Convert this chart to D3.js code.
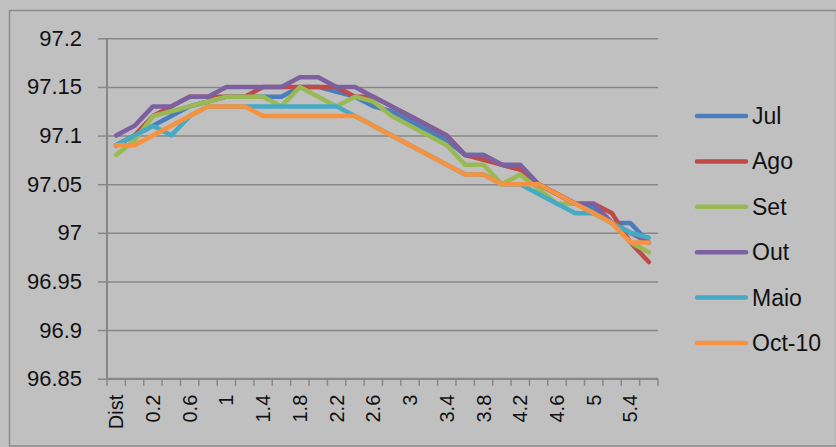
<!DOCTYPE html>
<html>
<head>
<meta charset="utf-8">
<script src="https://cdn.jsdelivr.net/npm/d3@7"></script>
<style>
  body { margin: 0; background: #c0c0c0; }
  svg { display: block; }
  text { font-family: "Liberation Sans", Arial, sans-serif; fill: #111; }
</style>
</head>
<body>
<div id="chart"></div>
<script>
// categories along the x axis (distance), labels shown on every other one
var categories = ["Dist", "0", "0.2", "0.4", "0.6", "0.8", "1", "1.2", "1.4", "1.6",
  "1.8", "2", "2.2", "2.4", "2.6", "2.8", "3", "3.2", "3.4", "3.6",
  "3.8", "4", "4.2", "4.4", "4.6", "4.8", "5", "5.2", "5.4", "5.6"];

var seriesNames = ["Jul", "Ago", "Set", "Out", "Maio", "Oct-10"];

var jul = [97.09, 97.10, 97.11, 97.12, 97.13, 97.135, 97.14, 97.14, 97.14, 97.14,
  97.15, 97.15, 97.145, 97.14, 97.13, 97.125, 97.115, 97.105, 97.095, 97.08,
  97.08, 97.07, 97.065, 97.05, 97.04, 97.03, 97.025, 97.01, 97.01, 96.99];
var ago = [97.09, 97.10, 97.12, 97.13, 97.14, 97.14, 97.14, 97.14, 97.15, 97.15,
  97.15, 97.15, 97.15, 97.14, 97.14, 97.13, 97.12, 97.11, 97.10, 97.08,
  97.075, 97.07, 97.065, 97.05, 97.04, 97.03, 97.03, 97.02, 96.99, 96.97];
var set = [97.08, 97.095, 97.12, 97.125, 97.13, 97.135, 97.14, 97.14, 97.14, 97.13,
  97.15, 97.14, 97.13, 97.14, 97.135, 97.12, 97.11, 97.10, 97.09, 97.07,
  97.07, 97.05, 97.06, 97.045, 97.03, 97.03, 97.02, 97.01, 96.99, 96.98];
var out = [97.10, 97.11, 97.13, 97.13, 97.14, 97.14, 97.15, 97.15, 97.15, 97.15,
  97.16, 97.16, 97.15, 97.15, 97.14, 97.13, 97.12, 97.11, 97.10, 97.08,
  97.08, 97.07, 97.07, 97.05, 97.04, 97.03, 97.03, 97.01, 97.00, 96.99];
var maio = [97.09, 97.10, 97.11, 97.10, 97.12, 97.13, 97.13, 97.13, 97.13, 97.13,
  97.13, 97.13, 97.13, 97.12, 97.11, 97.10, 97.09, 97.08, 97.07, 97.06,
  97.06, 97.05, 97.05, 97.04, 97.03, 97.02, 97.02, 97.01, 97.00, 96.995];
var oct10 = [97.09, 97.09, 97.10, 97.11, 97.12, 97.13, 97.13, 97.13, 97.12, 97.12,
  97.12, 97.12, 97.12, 97.12, 97.11, 97.10, 97.09, 97.08, 97.07, 97.06,
  97.06, 97.05, 97.05, 97.05, 97.04, 97.03, 97.02, 97.01, 96.99, 96.99];

var yTicks = [96.85, 96.9, 96.95, 97, 97.05, 97.1, 97.15, 97.2];

var colors = ["#4A7EBB", "#BE4B48", "#98B954", "#7D60A0", "#46AAC5", "#F69240"];

var series = [jul, ago, set, out, maio, oct10].map(function (vals, i) {
  return { name: seriesNames[i], color: colors[i], values: vals };
});

var W = 836, H = 447;
var plot = { left: 107, right: 658, top: 38.3, bottom: 378.7 };

var Svg = d3.select("#chart")
  .append("svg")
  .attr("width", W)
  .attr("height", H);

// chart area
Svg.append("rect")
  .attr("x", 9.5).attr("y", 10.5)
  .attr("width", W - 9).attr("height", H - 11.5)
  .attr("fill", "#c0c0c0")
  .attr("stroke", "#8c8c8c")
  .attr("stroke-width", 1.5);

var x = d3.scaleBand()
  .domain(categories)
  .range([plot.left, plot.right])
  .padding(0);

var y = d3.scaleLinear()
  .domain([96.85, 97.2])
  .range([plot.bottom, plot.top]);

// gridlines + y axis
var yAxis = Svg.append("g")
  .attr("transform", "translate(" + plot.left + ",0)")
  .call(d3.axisLeft(y)
    .tickValues(yTicks)
    .tickSize(9)
    .tickFormat(function (d) { return d3.format("")(+d.toFixed(2)); }));
yAxis.select(".domain").remove();
yAxis.selectAll(".tick line").attr("stroke", "#878787").attr("stroke-width", 1.5);
yAxis.selectAll(".tick text")
  .attr("x", -25)
  .style("font-size", "22px")
  .style("font-family", "'Liberation Sans', Arial, sans-serif")
  .attr("fill", "#111");

var grid = Svg.append("g")
  .attr("transform", "translate(" + plot.left + ",0)")
  .call(d3.axisLeft(y).tickValues(yTicks).tickSize(-(plot.right - plot.left)).tickFormat(""));
grid.select(".domain").remove();
grid.selectAll(".tick line").attr("stroke", "#878787").attr("stroke-width", 1.5);

// left axis line
Svg.append("line")
  .attr("x1", plot.left).attr("x2", plot.left)
  .attr("y1", plot.top).attr("y2", plot.bottom)
  .attr("stroke", "#878787").attr("stroke-width", 2);

// bottom axis with boundary ticks
var bottom = Svg.append("g");
bottom.append("line")
  .attr("x1", plot.left).attr("x2", plot.right)
  .attr("y1", plot.bottom).attr("y2", plot.bottom)
  .attr("stroke", "#878787").attr("stroke-width", 2);
var edges = categories.map(function (c) { return x(c); }).concat([plot.right]);
bottom.selectAll(".edge")
  .data(edges)
  .enter()
  .append("line")
  .attr("x1", function (d) { return d; })
  .attr("x2", function (d) { return d; })
  .attr("y1", plot.bottom)
  .attr("y2", plot.bottom + 7)
  .attr("stroke", "#878787").attr("stroke-width", 1.5);

bottom.selectAll(".xlab")
  .data(categories.filter(function (d, i) { return i % 2 === 0; }))
  .enter()
  .append("text")
  .attr("transform", function (d) {
    return "translate(" + (x(d) + x.bandwidth() / 2) + "," + (plot.bottom + 16) + ") rotate(-90)";
  })
  .attr("text-anchor", "end")
  .attr("dy", "0.35em")
  .style("font-size", "20px")
  .text(function (d) { return d; });

// lines
var line = d3.line()
  .x(function (d, i) { return x(categories[i]) + x.bandwidth() / 2; })
  .y(function (d) { return y(d); });

Svg.append("g")
  .selectAll("path")
  .data(series)
  .enter()
  .append("path")
  .attr("d", function (d) { return line(d.values); })
  .attr("fill", "none")
  .attr("stroke", function (d) { return d.color; })
  .attr("stroke-width", 4.5)
  .attr("stroke-linejoin", "round")
  .attr("stroke-linecap", "round");

// legend
var legend = Svg.append("g")
  .selectAll("g")
  .data(series)
  .enter()
  .append("g")
  .attr("transform", function (d, i) { return "translate(0," + (116 + i * 45.4) + ")"; });

legend.append("line")
  .attr("x1", 697).attr("x2", 746)
  .attr("y1", 0).attr("y2", 0)
  .attr("stroke", function (d) { return d.color; })
  .attr("stroke-width", 4.5)
  .attr("stroke-linecap", "round");

legend.append("text")
  .attr("x", 752)
  .attr("dy", "0.35em")
  .style("font-size", "23px")
  .text(function (d) { return d.name; });
</script>
</body>
</html>
